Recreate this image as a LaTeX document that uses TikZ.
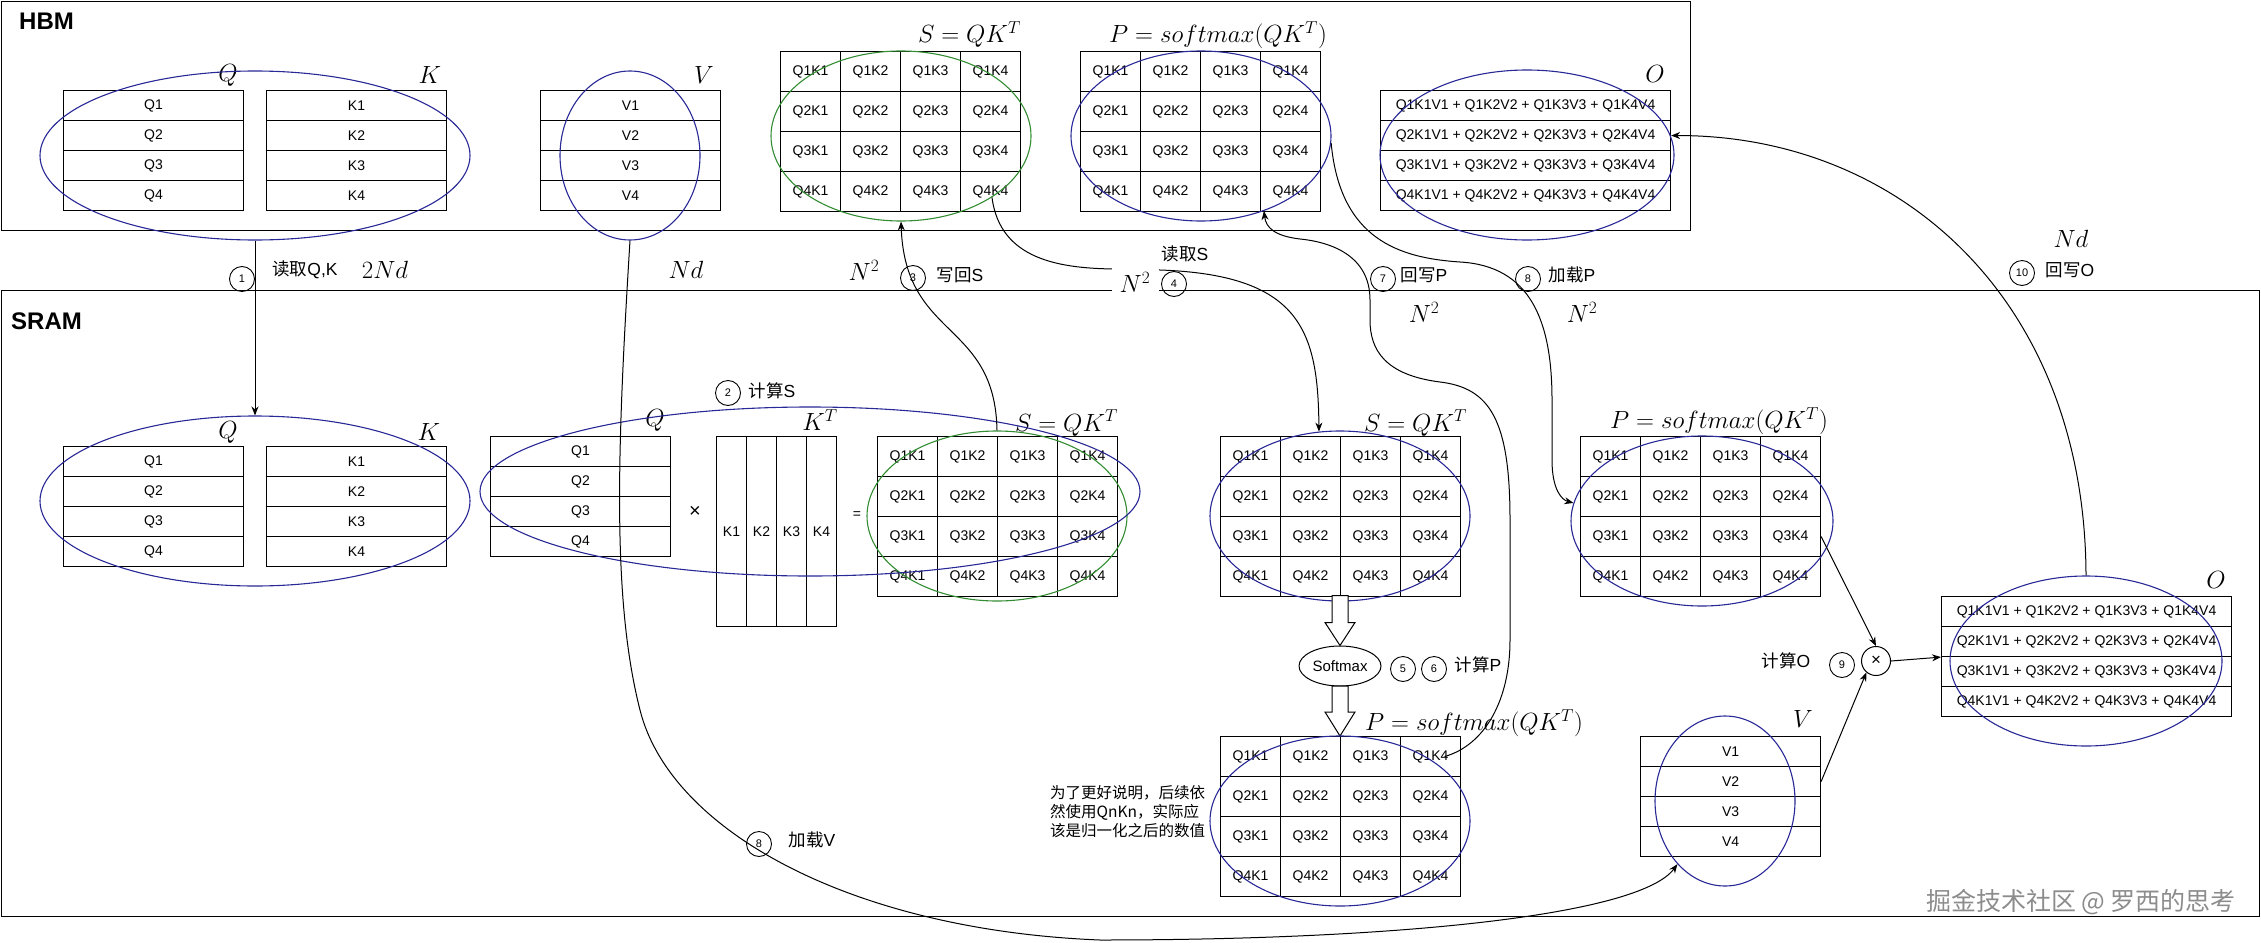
\documentclass[tikz,border=0pt]{standalone}
\usepackage{fontspec}
\usetikzlibrary{shapes.geometric,arrows.meta,calc}
\newfontfamily\lib{Liberation Sans}
\newfontfamily\cjk{Noto Sans CJK SC}
\definecolor{eb}{RGB}{40,40,150}
\definecolor{eg}{RGB}{50,140,50}
\newcommand\qkgrid[3]{%
  \foreach \rr in {1,...,4}{\foreach \cc in {1,...,4}{%
    \node[cell, minimum width=60, minimum height=40] (#1-\rr-\cc) at ({#2+60*(\cc-1)},{#3+40*(\rr-1)}) {Q\rr K\cc};}}}
\newcommand\rowbox[5]{% name, x, y, width, letter
  \foreach \rr in {1,...,4}{%
    \node[cell, minimum width=#4, minimum height=30] (#1\rr) at (#2,{#3+30*(\rr-1)}) {#5\rr};}}
\newcommand\obox[3]{% name, x, y
  \foreach \rr in {1,...,4}{%
    \node[cell, minimum width=290, minimum height=30] (#1\rr) at (#2,{#3+30*(\rr-1)}) {Q\rr K1V1 + Q\rr K2V2 + Q\rr K3V3 + Q\rr K4V4};}}
\begin{document}
\begin{tikzpicture}[x=1pt,y=-1pt,
  cell/.style={draw, line width=1.1pt, inner sep=0pt, anchor=north west, font=\lib\fontsize{14}{16}\selectfont},
  ell/.style={draw=eb, ellipse, line width=1.1pt, inner sep=0pt},
  gell/.style={draw=eg, ellipse, line width=1.1pt, inner sep=0pt},
  mlab/.style={inner sep=0pt, font=\fontsize{24}{28}\selectfont},
  lab/.style={inner sep=0pt, font=\lib\fontsize{17.5}{20}\selectfont},
  num/.style={draw, circle, minimum size=25, inner sep=0pt, line width=0.9pt, font=\lib\fontsize{11}{12}\selectfont},
  con/.style={line width=1pt},
  arr/.style={con, -{Stealth[length=9pt,width=7pt]}},
  blk/.style={draw, line width=1pt, fill=white, line join=miter},
  big/.style={draw, line width=1.3pt, inner sep=0pt, anchor=north west},
  plain/.style={inner sep=0pt, font=\lib\fontsize{14}{16}\selectfont},
]
\useasboundingbox (0,0) rectangle (2261,942);
% region boxes
\node[big, minimum width=1689, minimum height=229] (hbm) at (0.7,0.7) {};
\node[big, minimum width=2258, minimum height=626] (sram) at (0.7,290) {};
\node[inner sep=0pt, anchor=west, font=\lib\bfseries\fontsize{24}{28}\selectfont] (hbmlab) at (19,21) {HBM};
\node[inner sep=0pt, anchor=west, font=\lib\bfseries\fontsize{24}{28}\selectfont] (sramlab) at (11,321) {SRAM};

% ---------- HBM contents ----------
\rowbox{hq}{63}{90}{180}{Q}
\rowbox{hk}{266}{90}{180}{K}
\rowbox{hvb}{540}{90}{180}{V}
\qkgrid{hs}{780}{51}
\qkgrid{hp}{1080}{51}
\obox{ho}{1380}{90}
\node[mlab] (hqlab) at (228,75) {$Q$};
\node[mlab] (hklab) at (430,75) {$K$};
\node[mlab] (hvlab) at (704,75) {$V$};
\node[mlab] (holab) at (1655,74) {$O$};
\node[mlab, anchor=east] (hslab) at (1021,35) {$S=QK^T$};
\node[mlab, anchor=east] (hplab) at (1327,35) {$P=softmax(QK^T)$};
\node[ell, minimum width=430, minimum height=169] (hqk) at (255,155.5) {};
\node[ell, minimum width=140, minimum height=169] (hv) at (630,155.5) {};
\node[gell, minimum width=260, minimum height=170] (hse) at (901,136) {};
\node[ell, minimum width=260, minimum height=170] (hpe) at (1201,136) {};
\node[ell, minimum width=294, minimum height=170] (hoe) at (1527,155) {};

% ---------- SRAM contents ----------
\rowbox{sq}{63}{446}{180}{Q}
\rowbox{sk}{266}{446}{180}{K}
\node[mlab] (sqlab) at (228,432) {$Q$};
\node[mlab] (sklab) at (429,432) {$K$};
\node[ell, minimum width=430, minimum height=170] (sqk) at (255,501) {};

\rowbox{mq}{490}{436}{180}{Q}
\node[mlab] (mqlab) at (655,420) {$Q$};
\node[inner sep=0pt, font=\lib\fontsize{20}{22}\selectfont] (times) at (695,512) {×};
\foreach \cc in {1,...,4}{%
  \node[cell, minimum width=30, minimum height=190] (kt\cc) at ({716+30*(\cc-1)},436) {K\cc};}
\node[mlab] (ktlab) at (820,420) {$K^T$};
\node[plain] (eq) at (857,515) {=};
\qkgrid{s1}{877}{436}
\node[mlab, anchor=east] (s1lab) at (1118,423) {$S=QK^T$};
\node[gell, minimum width=260, minimum height=170] (s1e) at (997,516) {};
\node[ell, minimum width=660, minimum height=169] (cse) at (810,491.5) {};

\qkgrid{s2}{1220}{436}
\node[mlab, anchor=east] (s2lab) at (1467,423) {$S=QK^T$};
\node[ell, minimum width=260, minimum height=170] (s2e) at (1340,516) {};

\node[draw, ellipse, line width=1pt, minimum width=82, minimum height=40, inner sep=0pt, font=\lib\fontsize{15}{17}\selectfont] (sm) at (1340,666) {Softmax};
\draw[blk] (sm.north) -- ++(-15,-23) -- ++(7,0) -- ++(0,-27) -- ++(16,0) -- ++(0,27) -- ++(7,0) -- cycle;

\qkgrid{p2}{1220}{736}
\draw[blk] (p2-1-3.north west) -- ++(-15,-24) -- ++(7,0) -- ++(0,-26) -- ++(16,0) -- ++(0,26) -- ++(7,0) -- cycle;
\node[mlab] (p2lab) at (1474,723) {$P=softmax(QK^T)$};
\node[ell, minimum width=260, minimum height=170] (p2e) at (1340,821) {};
\node[inner sep=0pt, anchor=west, align=left, font=\cjk\fontsize{15.5}{19}\selectfont] (note) at (1050,812) {为了更好说明，后续依\\然使用QnKn，实际应\\该是归一化之后的数值};

\qkgrid{p3}{1580}{436}
\node[mlab, anchor=east] (p3lab) at (1828,421) {$P=softmax(QK^T)$};
\node[ell, minimum width=262, minimum height=170] (p3e) at (1702,521) {};

\rowbox{sv}{1640}{736}{180}{V}
\node[mlab] (svlab) at (1803,719) {$V$};
\node[ell, minimum width=140, minimum height=170] (sve) at (1725,801) {};

\node[draw, circle, minimum size=29, inner sep=0pt, line width=1pt, font=\lib\fontsize{17}{19}\selectfont] (mul) at (1876,661) {×};

\obox{so}{1941}{596}
\node[mlab] (solab) at (2216,580) {$O$};
\node[ell, minimum width=272, minimum height=170] (soe) at (2086,661) {};

% ---------- connectors ----------
\draw[arr] (hqk.south) -- (sqk.north);
\draw[arr] (hv.south) .. controls (617,450) and (612,600) .. (640,710)
  .. controls (670,830) and (850,930) .. (1100,940)
  .. controls (1400,940) and (1640,915) .. (sve.233);
\draw[arr] (s1e.north) .. controls (995,320) and (905,340) .. (hse.south);
\draw[arr] (hse.-34) .. controls (1000,260) and (1060,269) .. (1120,269) -- (1160,270)
  .. controls (1300,275) and (1318,330) .. (s2e.104);
\coordinate (c7s) at ([xshift=14pt]p2-1-4.center);
\draw[arr] (c7s) .. controls (1485,745) and (1510,700) .. (1510,640) -- (1510,520)
  .. controls (1510,420) and (1490,388) .. (1440,382)
  .. controls (1385,375) and (1370,350) .. (1370,320) -- (1370,300)
  .. controls (1370,255) and (1330,242) .. (1300,239)
  .. controls (1275,236) and (1266,228) .. (hpe.-50);
\draw[arr] (hpe.-3) .. controls (1340,240) and (1400,258) .. (1460,262)
  .. controls (1530,266) and (1552,320) .. (1552,400) -- (1552,460)
  .. controls (1552,490) and (1562,500) .. (p3e.172);
\draw[arr] (p3-3-4.east) -- (mul.north);
\draw[arr] (sv2.east) -- (mul.230);
\draw[arr] (mul.east) -- (so2.south west);
\draw[arr] (soe.north) .. controls (2085,300) and (1900,135) .. (ho2.east);

% ---------- step circles and labels ----------
\node[num] (n1) at (242,279) {1};
\node[lab] (l1) at (305,270) {{\cjk 读取}Q,K};
\node[mlab] (d1) at (385,270) {$2Nd$};
\node[mlab] (d8v) at (686,270) {$Nd$};
\node[mlab] (d3) at (864,270) {$N^2$};
\node[num] (n3) at (913,278) {3};
\node[lab] (l3) at (960,275) {{\cjk 写回}S};
\node[num] (n4) at (1174,284) {4};
\node[lab] (l4) at (1185,254) {{\cjk 读取}S};
\node[mlab, fill=white, minimum width=47, minimum height=34] (d4) at (1135,282) {$N^2$};
\node[num] (n7) at (1383,279) {7};
\node[lab] (l7) at (1424,275) {{\cjk 回写}P};
\node[mlab] (d7) at (1424,312) {$N^2$};
\node[num] (n8p) at (1528,279) {8};
\node[lab] (l8p) at (1572,275) {{\cjk 加载}P};
\node[mlab] (d8p) at (1582,312) {$N^2$};
\node[mlab] (d10) at (2071,239) {$Nd$};
\node[num] (n10) at (2022,273) {10};
\node[lab] (l10) at (2070,270) {{\cjk 回写}O};
\node[num] (n2) at (728,393) {2};
\node[lab] (l2) at (772,391) {{\cjk 计算}S};
\node[num] (n5) at (1403,669) {5};
\node[num] (n6) at (1434,669) {6};
\node[lab] (l56) at (1478,665) {{\cjk 计算}P};
\node[num] (n9) at (1842,665) {9};
\node[lab] (l9) at (1786,661) {{\cjk 计算}O};
\node[num] (n8v) at (759,844) {8};
\node[lab] (l8v) at (812,840) {{\cjk 加载}V};

\node[inner sep=0pt, text=black!45, font=\cjk\fontsize{25}{28}\selectfont] (wm) at (2081,902) {掘金技术社区 @ 罗西的思考};
\end{tikzpicture}
\end{document}
